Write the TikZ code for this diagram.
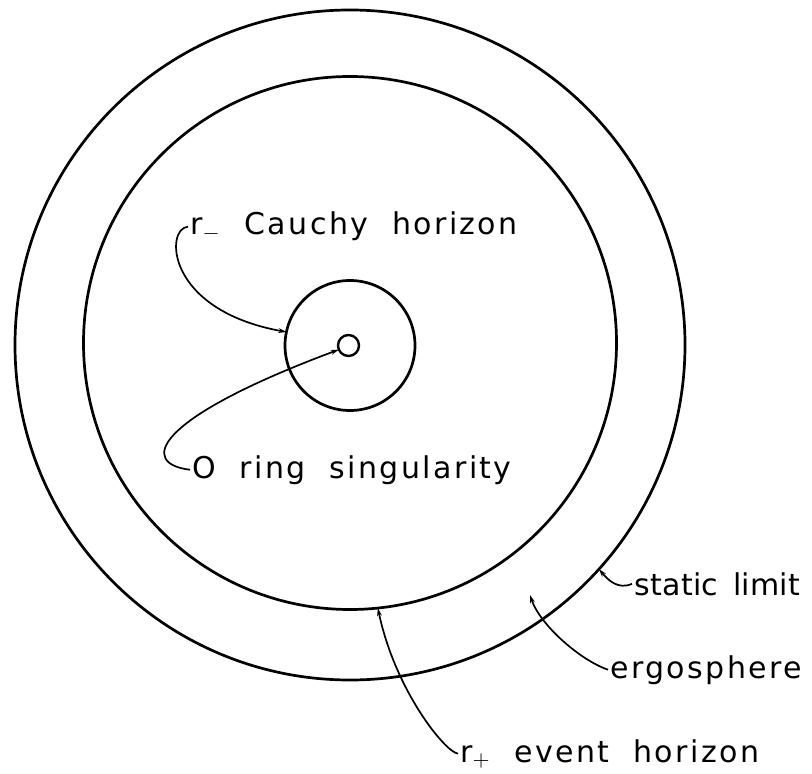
\documentclass[tikz,border=0pt]{standalone}
\usepackage{fontspec}
\setmainfont{DejaVu Sans}[LetterSpace=8, WordSpace=2]
\newfontfamily\tightfont{DejaVu Sans}[LetterSpace=1, WordSpace=1.5]
\usetikzlibrary{arrows.meta}

\begin{document}
\begin{tikzpicture}[x=0.5pt, y=-0.5pt,
    hor/.style={circle, draw, line width=1.35pt, inner sep=0pt, outer sep=0pt},
    lbl/.style={anchor=base west, inner sep=1pt, font=\fontsize{15}{18}\selectfont},
    ptr/.style={line width=0.85pt, -{Stealth[length=4pt, width=2.4pt]}}]
  \useasboundingbox (0,0) rectangle (812,774);
  % horizons
  \foreach \nm/\d/\cy in {statlim/670/345, evhor/533/343, cauchyhor/130/345.5}
    \node[hor, minimum size=\d*0.5pt] (\nm) at (350,\cy) {};
  \node[hor, line width=1.2pt, minimum size=10.5pt] (ring) at (348.5,345.5) {};
  % labels
  \node[lbl] (cauchylbl) at (188,235) {r$_-$ Cauchy horizon};
  \node[lbl] (ringlbl) at (190,478) {O ring singularity};
  \node[lbl] (statlbl) at (632,595) {\tightfont static limit};
  \node[lbl] (ergolbl) at (608,678) {ergosphere};
  \node[lbl] (evlbl) at (458,762) {r$_+$ event horizon};
  \coordinate (ergopt) at (530,595);
  % pointers
  \draw[ptr] (cauchylbl.west) .. controls (165,228) and (165,310) .. (cauchyhor.168);
  \draw[ptr] (ringlbl.west) .. controls (140,464) and (150,420) .. (ring.203);
  \draw[ptr] (statlbl.west) .. controls (618,590) and (608,580) .. (statlim.-42);
  \draw[ptr] (ergolbl.west) .. controls (580,660) and (540,625) .. (ergopt);
  \draw[ptr] (evlbl.west) .. controls (445,752) and (395,690) .. (evhor.276);
\end{tikzpicture}
\end{document}
